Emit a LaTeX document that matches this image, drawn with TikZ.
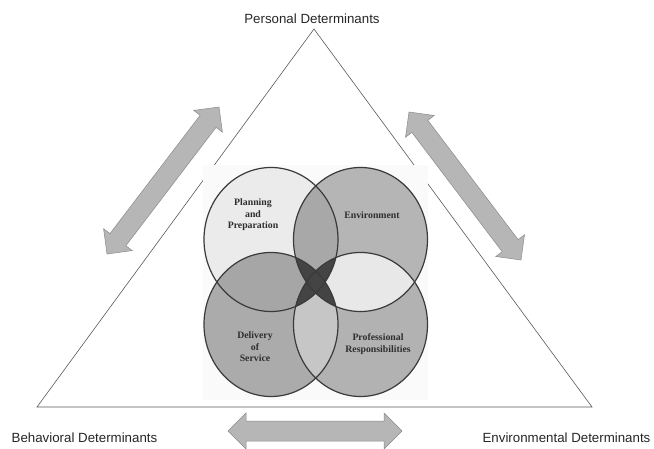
\documentclass[tikz,border=0pt]{standalone}
\usepackage{fontspec}
\setmainfont{Liberation Serif}
\setsansfont{Liberation Sans}
\usetikzlibrary{calc}

\definecolor{panel}{HTML}{FAFAFA}
\definecolor{planfill}{HTML}{EBEBEB}
\definecolor{envfill}{HTML}{B5B5B5}
\definecolor{delfill}{HTML}{ABABAB}
\definecolor{profill}{HTML}{B2B2B2}
\definecolor{topfill}{HTML}{A8A8A8}
\definecolor{leftfill}{HTML}{A6A6A6}
\definecolor{rightfill}{HTML}{E8E8E8}
\definecolor{lowfill}{HTML}{C6C6C6}
\definecolor{corefill}{HTML}{444444}
\definecolor{ringline}{HTML}{3A3A3A}
\definecolor{arrowgray}{HTML}{B6B6B6}
\definecolor{arrowline}{HTML}{8A8A8A}

% double headed block arrow between two tips
\newcommand{\twoway}[2]{%
	\draw[twoway] (#1)
		-- ($(#1)!18pt!(#2)!18pt!90:(#2)$)
		-- ($(#1)!18pt!(#2)!10pt!90:(#2)$)
		-- ($(#2)!18pt!(#1)!10pt!-90:(#1)$)
		-- ($(#2)!18pt!(#1)!18pt!-90:(#1)$)
		-- (#2)
		-- ($(#2)!18pt!(#1)!18pt!90:(#1)$)
		-- ($(#2)!18pt!(#1)!10pt!90:(#1)$)
		-- ($(#1)!18pt!(#2)!10pt!-90:(#2)$)
		-- ($(#1)!18pt!(#2)!18pt!-90:(#2)$)
		-- cycle;}

\begin{document}
\begin{tikzpicture}[x=1pt, y=-1pt]
		\tikzstyle{det} = [font=\sffamily\fontsize{13.3}{15}\selectfont, text=black!85]
		\tikzstyle{areatext} = [font=\bfseries\fontsize{9.8}{11.5}\selectfont, align=center, text=black!82]
		\tikzstyle{disc} = [x radius=67pt, y radius=72pt]
		\tikzstyle{ring} = [draw=ringline, line width=1.2pt]
		\tikzstyle{twoway} = [fill=arrowgray, draw=arrowline, line width=0.5pt]
		\useasboundingbox (0,0) rectangle (654,449);

		% triangle and its corners
		\coordinate (apex) at (314,29);
		\coordinate (lcorner) at (37,407);
		\coordinate (rcorner) at (592,407);
		\draw[black!65, line width=0.6pt] (apex) -- (lcorner) -- (rcorner) -- cycle;
		\node[det](personal) at (312,19) {Personal Determinants};
		\node[det](behavioral) at (84.5,438) {Behavioral Determinants};
		\node[det](environmental) at (566.5,438) {Environmental Determinants};

		% block arrows
		\coordinate (behUp) at (107,254);
		\coordinate (perLeft) at (219,107);
		\coordinate (perRight) at (409,112);
		\coordinate (envUp) at (521,260);
		\coordinate (behLow) at (228,431);
		\coordinate (envLow) at (402,431);
		\twoway{behUp}{perLeft}
		\twoway{perRight}{envUp}
		\twoway{behLow}{envLow}

		% the four areas
		\fill[panel] (203,165) rectangle (428,400);
		\coordinate (plan) at (271,239.5);
		\coordinate (env) at (360.5,239.5);
		\coordinate (del) at (271,324.5);
		\coordinate (pro) at (360.5,324.5);
		\fill[planfill] (plan) ellipse [disc];
		\fill[envfill] (env) ellipse [disc];
		\fill[delfill] (del) ellipse [disc];
		\fill[profill] (pro) ellipse [disc];
		\begin{scope}
			\clip (plan) ellipse [disc];
			\fill[topfill] (env) ellipse [disc];
			\fill[leftfill] (del) ellipse [disc];
		\end{scope}
		\begin{scope}
			\clip (pro) ellipse [disc];
			\fill[rightfill] (env) ellipse [disc];
			\fill[lowfill] (del) ellipse [disc];
		\end{scope}
		% diagonal overlaps make the dark cross
		\begin{scope}
			\clip (plan) ellipse [disc];
			\fill[corefill] (pro) ellipse [disc];
		\end{scope}
		\begin{scope}
			\clip (env) ellipse [disc];
			\fill[corefill] (del) ellipse [disc];
		\end{scope}
		\draw[ring] (plan) ellipse [disc];
		\draw[ring] (env) ellipse [disc];
		\draw[ring] (del) ellipse [disc];
		\draw[ring] (pro) ellipse [disc];
		\node[areatext](planning) at (253,215) {Planning\\and\\Preparation};
		\node[areatext](environment) at (372,215) {Environment};
		\node[areatext](delivery) at (255,347) {Delivery\\of\\Service};
		\node[areatext](professional) at (378,344) {Professional\\Responsibilities};
	\end{tikzpicture}
\end{document}
